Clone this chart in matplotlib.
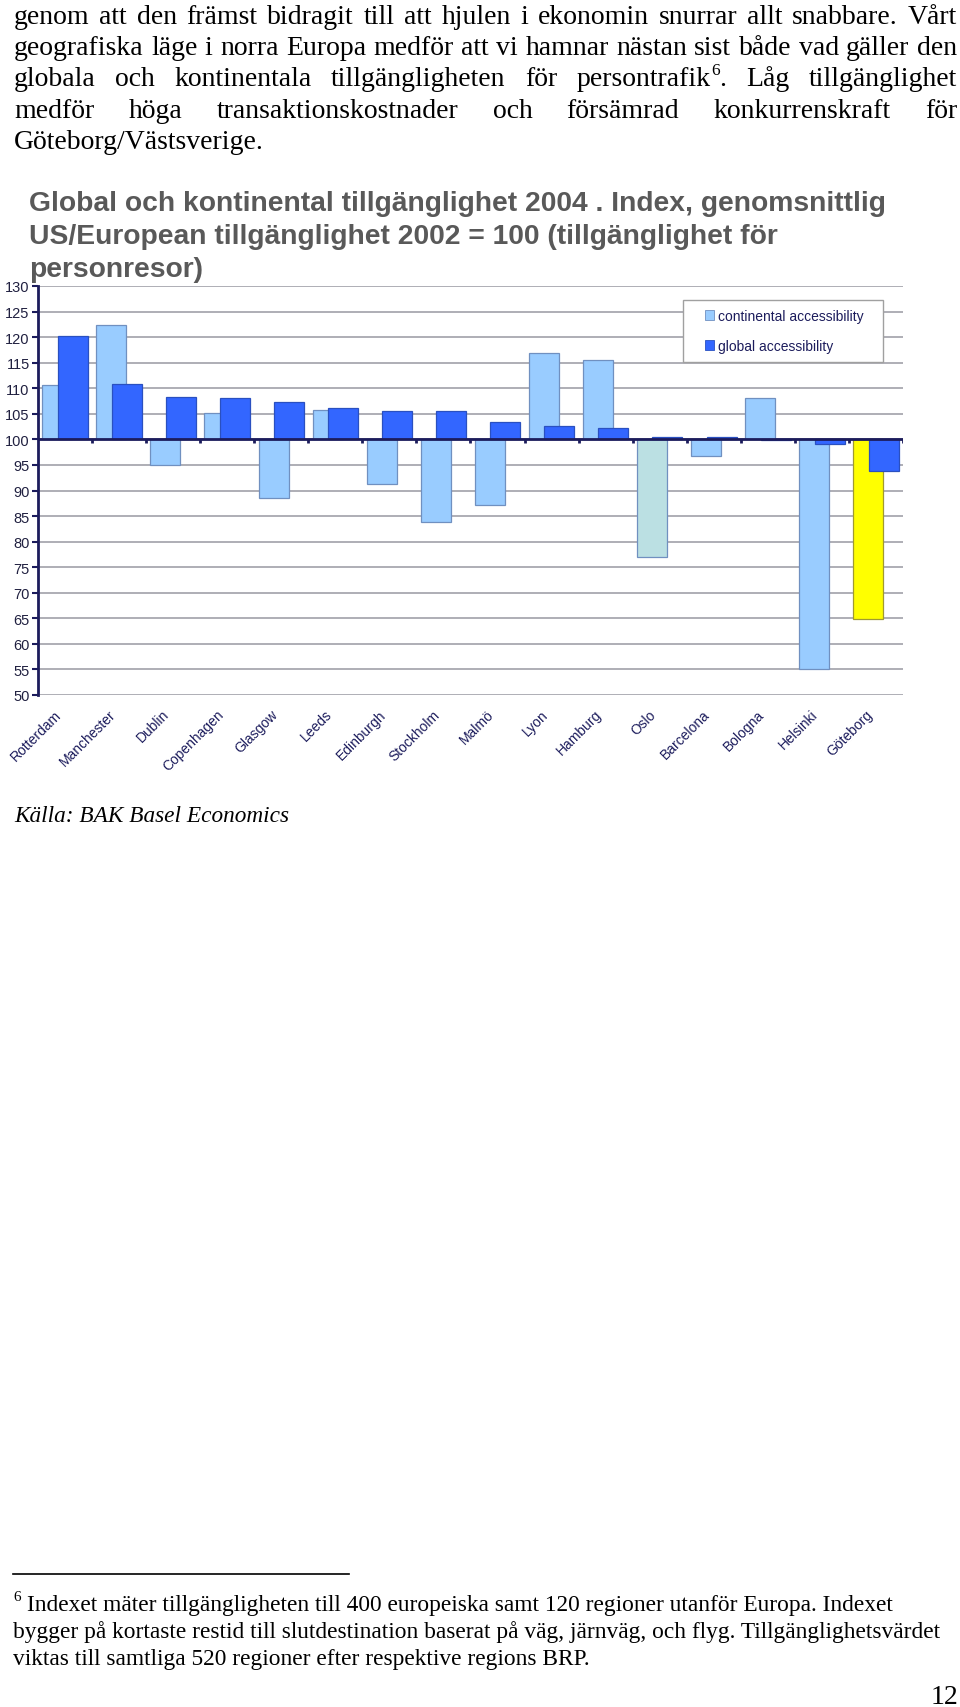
import matplotlib
matplotlib.use('Agg')
import matplotlib.pyplot as plt
import numpy as np
from matplotlib.patches import Patch, Rectangle
from matplotlib.transforms import ScaledTranslation

W, H = 960, 1708

cities = ['Rotterdam', 'Manchester', 'Dublin', 'Copenhagen', 'Glasgow', 'Leeds',
          'Edinburgh', 'Stockholm', 'Malmö', 'Lyon', 'Hamburg', 'Oslo',
          'Barcelona', 'Bologna', 'Helsinki', 'Göteborg']
continental = [110.7, 122.3, 95.0, 105.1, 88.6, 105.8, 91.2, 83.8,
               87.2, 116.8, 115.6, 76.9, 96.7, 108.0, 55.0, 64.9]
global_acc = [120.2, 110.8, 108.2, 108.0, 107.3, 106.2, 105.6, 105.5,
              103.4, 102.7, 102.3, 100.5, 100.5, 99.9, 99.0, 93.8]
yticks = list(range(50, 131, 5))

# '^' markerar upphöjd fotnotssiffra: bas^upphöjt^rest
body_lines = [
    'genom att den främst bidragit till att hjulen i ekonomin snurrar allt snabbare. Vårt',
    'geografiska läge i norra Europa medför att vi hamnar nästan sist både vad gäller den',
    'globala och kontinentala tillgängligheten för persontrafik^6^. Låg tillgänglighet',
    'medför höga transaktionskostnader och försämrad konkurrenskraft för',
    'Göteborg/Västsverige.',
]
title_lines = ['Global och kontinental tillgänglighet 2004 . Index, genomsnittlig',
               'US/European tillgänglighet 2002 = 100 (tillgänglighet för',
               'personresor)']
footnote = [
    'Indexet mäter tillgängligheten till 400 europeiska samt 120 regioner utanför Europa. Indexet',
    'bygger på kortaste restid till slutdestination baserat på väg, järnväg, och flyg. Tillgänglighetsvärdet',
    'viktas till samtliga 520 regioner efter respektive regions BRP.',
]

CONT = '#99ccff'
GLOB = '#3366ff'
NAVY = '#1c1c5c'
special = {'Oslo': '#bbe0e3', 'Göteborg': '#ffff00'}
cont_colors = [special.get(c, CONT) for c in cities]
cont_edges = ['#a09a30' if c == 'Göteborg' else '#7090c0' for c in cities]

SERIF = ['Liberation Serif', 'DejaVu Serif']
SANS = ['Liberation Sans', 'DejaVu Sans']

fig = plt.figure(figsize=(W / 100, H / 100), dpi=100)
fig.patch.set_facecolor('white')
R = fig.canvas.get_renderer()


def fy(y):
    return 1 - y / H


def fit_size(text, target, base=18, **kw):
    # textstorlek så att raden blir target pixlar bred
    t = fig.text(0, 0, text, fontsize=base, **kw)
    w = t.get_window_extent(R).width
    t.remove()
    return base * target / w


def justify(lines, x0, x1, baselines, size):
    px = size * 100 / 72
    for k, (line, yb) in enumerate(zip(lines, baselines)):
        words = []
        for word in line.split(' '):
            if '^' in word:
                base, sup, tail = word.split('^')
                segs = [(base, size, 0), (sup, size * 0.62, px * 0.42), (tail, size, 0)]
            else:
                segs = [(word, size, 0)]
            ts = [fig.text(0, fy(yb - rise), s, fontsize=sz, family=SERIF, va='baseline')
                  for s, sz, rise in segs if s]
            ws = [t.get_window_extent(R).width for t in ts]
            words.append((ts, ws))
        total = sum(sum(ws) for _, ws in words)
        if k == len(lines) - 1:
            gap = px * 0.25
        else:
            gap = (x1 - x0 - total) / (len(words) - 1)
        x = x0
        for ts, ws in words:
            for t, w in zip(ts, ws):
                t.set_x(x / W)
                x += w
            x += gap


# brödtext
body_size = fit_size(body_lines[1], 935, family=SERIF)
justify(body_lines, 14, 957, [24, 55, 86.5, 118, 149], body_size)

# diagramrubrik
title_size = fit_size(title_lines[0], 856, family=SANS, fontweight='bold')
for line, yb in zip(title_lines, [211, 244, 277]):
    fig.text(29 / W, fy(yb), line, fontsize=title_size, fontweight='bold',
             color='#595959', family=SANS, va='baseline')

# diagram
left, right, top, bottom = 38, 903, 287, 696
ax = fig.add_axes([left / W, fy(bottom), (right - left) / W, (bottom - top) / H])
x = np.arange(len(cities))
w = 0.555
ax.bar(x - 0.143, np.array(continental) - 100, bottom=100, width=w,
       color=cont_colors, edgecolor=cont_edges, linewidth=0.9, zorder=2)
ax.bar(x + 0.143, np.array(global_acc) - 100, bottom=100, width=w,
       color=GLOB, edgecolor='#2a50c0', linewidth=0.9, zorder=3)

ax.set_xlim(-0.5, len(cities) - 0.5)
ax.set_ylim(50, 130)
ax.set_yticks(yticks)
ax.yaxis.grid(True, color='#a8a8b0', linewidth=1.3)
ax.set_axisbelow(True)
for s in ['top', 'right', 'bottom']:
    ax.spines[s].set_visible(False)
ax.spines['left'].set_color(NAVY)
ax.spines['left'].set_linewidth(2)
ax.tick_params(axis='y', colors=NAVY, labelsize=10.5, length=4, width=1.5, pad=2,
               labelcolor='#202040')
for lab in ax.get_yticklabels():
    lab.set_family(SANS)

ax.set_xticks(x)
ax.set_xticklabels(cities, rotation=45, ha='right', va='center',
                   rotation_mode='anchor', fontsize=10, color=NAVY, family=SANS)
ax.tick_params(axis='x', length=0, pad=12)
shift = ScaledTranslation(-6 / 100, 0, fig.dpi_scale_trans)
for lab in ax.get_xticklabels():
    lab.set_transform(lab.get_transform() + shift)

# x-axeln vid 100 med streck mellan kategorierna
ax.axhline(100, color=NAVY, linewidth=2, zorder=4)
ax.vlines(np.arange(1, len(cities) + 1) - 0.5, 99.2, 100, color=NAVY, linewidth=2, zorder=4)

handles = [Patch(facecolor=CONT, edgecolor='#7090c0', linewidth=0.6),
           Patch(facecolor=GLOB, edgecolor='#2a50c0', linewidth=0.6)]
leg = ax.legend(handles, ['continental accessibility', 'global accessibility'],
                loc='upper right', bbox_to_anchor=(0.955, 0.944), frameon=False,
                handlelength=0.7, handleheight=0.7, handletextpad=0.3,
                labelspacing=1.15, borderpad=0, borderaxespad=0,
                prop={'family': SANS, 'size': 10})
for t in leg.get_texts():
    t.set_color(NAVY)
leg.set_zorder(6)
bb = leg.get_window_extent(R)
box = Rectangle((bb.x0 - 22, bb.y0 - 9), bb.width + 41, bb.height + 18,
                transform=None, facecolor='white', edgecolor='#a0a0a0',
                linewidth=1, zorder=5, clip_on=False)
ax.add_artist(box)

fig.text(14 / W, fy(822), 'Källa: BAK Basel Economics', fontsize=body_size * 0.84,
         family=SERIF, style='italic', va='baseline')

# fotnot
foot_size = fit_size(footnote[1], 926, family=SERIF)
fig.add_artist(plt.Line2D([13 / W, 349 / W], [fy(1575), fy(1575)], color='black', linewidth=1.2))
fig.text(13 / W, fy(1601), '6', fontsize=foot_size * 0.65, family=SERIF, va='baseline')
fig.text(27 / W, fy(1611), footnote[0], fontsize=foot_size, family=SERIF, va='baseline')
fig.text(13 / W, fy(1638), footnote[1], fontsize=foot_size, family=SERIF, va='baseline')
fig.text(13 / W, fy(1665), footnote[2], fontsize=foot_size, family=SERIF, va='baseline')
fig.text(958 / W, fy(1704), '12', fontsize=body_size, family=SERIF, va='baseline', ha='right')

fig.savefig('out.png', dpi=100)
